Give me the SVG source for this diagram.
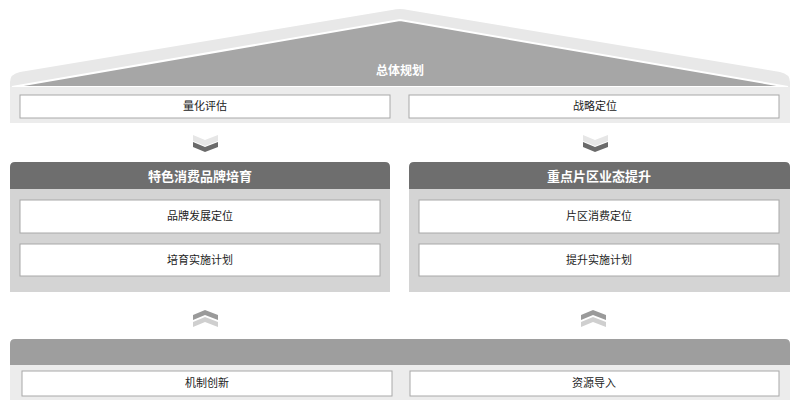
<svg xmlns="http://www.w3.org/2000/svg" width="800" height="410" viewBox="0 0 800 410">
<style>
.box{fill:#ffffff;stroke:#a8a8a8;stroke-width:1}
.t{font-family:"Noto Sans CJK SC","Noto Sans",sans-serif;font-size:11px;fill:#222;text-anchor:middle}
.h{font-family:"Noto Sans CJK SC","Noto Sans",sans-serif;font-size:13px;font-weight:bold;fill:#ffffff;text-anchor:middle}
</style>
<rect width="800" height="410" fill="#ffffff"/>
<g id="roof">
<path d="M10,87 L10,82 Q10,74 20,72 L392,10 Q400,8 408,10 L780,72 Q790,74 790,82 L790,87 Z" fill="#e8e8e8"/>
<path d="M12,87 L400,20 L788,87 Z" fill="#a6a6a6" stroke="#ffffff" stroke-width="2"/>
<text class="h" x="400" y="75" style="font-size:12px">总体规划</text>
<rect x="10" y="87" width="780" height="36" fill="#ececec"/>
</g>
<g id="n-liang">
<rect class="box" x="20" y="95" width="370" height="23"/>
<text class="t" x="205" y="110">量化评估</text>
</g>
<g id="n-zhan">
<rect class="box" x="409" y="95" width="370" height="23"/>
<text class="t" x="595" y="110">战略定位</text>
</g>
<g id="connectors">
<path d="M193,135 L205,140 L218,135 L218,141 L205,146 L193,141 Z" fill="#e6e6e6"/>
<path d="M193,142 L205,147 L218,142 L218,147 L205,152 L193,147 Z" fill="#6a6a6a"/>
<path d="M583,135 L595,140 L608,135 L608,141 L595,146 L583,141 Z" fill="#e6e6e6"/>
<path d="M583,142 L595,147 L608,142 L608,147 L595,152 L583,147 Z" fill="#6a6a6a"/>
<path d="M193,315 L205,310 L218,315 L218,320 L205,315 L193,320 Z" fill="#9a9a9a"/>
<path d="M193,322 L205,317 L218,322 L218,327 L205,322 L193,327 Z" fill="#cfcfcf"/>
<path d="M581,315 L593,310 L606,315 L606,320 L593,315 L581,320 Z" fill="#9a9a9a"/>
<path d="M581,322 L593,317 L606,322 L606,327 L593,322 L581,327 Z" fill="#cfcfcf"/>
</g>
<g id="panel-left">
<rect x="10" y="189" width="380" height="103" fill="#d4d4d4"/>
<path d="M10,189 L10,167 Q10,162 15,162 L385,162 Q390,162 390,167 L390,189 Z" fill="#6e6e6e"/>
<text class="h" x="200" y="181">特色消费品牌培育</text>
</g>
<g id="n-pinpai">
<rect class="box" x="20" y="200" width="360" height="33"/>
<text class="t" x="200" y="220">品牌发展定位</text>
</g>
<g id="n-peiyu">
<rect class="box" x="20" y="244" width="360" height="32"/>
<text class="t" x="200" y="264">培育实施计划</text>
</g>
<g id="panel-right">
<rect x="409" y="189" width="381" height="103" fill="#d4d4d4"/>
<path d="M409,189 L409,167 Q409,162 414,162 L785,162 Q790,162 790,167 L790,189 Z" fill="#6e6e6e"/>
<text class="h" x="599" y="181">重点片区业态提升</text>
</g>
<g id="n-pianqu">
<rect class="box" x="419" y="200" width="360" height="33"/>
<text class="t" x="599" y="220">片区消费定位</text>
</g>
<g id="n-tisheng">
<rect class="box" x="419" y="244" width="360" height="32"/>
<text class="t" x="599" y="264">提升实施计划</text>
</g>
<g id="base">
<rect x="10" y="365" width="780" height="35" fill="#ececec"/>
<path d="M10,365 L10,344 Q10,339 15,339 L785,339 Q790,339 790,344 L790,365 Z" fill="#9e9e9e"/>
</g>
<g id="n-jizhi">
<rect class="box" x="22" y="371" width="370" height="25"/>
<text class="t" x="207" y="387">机制创新</text>
</g>
<g id="n-ziyuan">
<rect class="box" x="410" y="371" width="369" height="25"/>
<text class="t" x="594" y="387">资源导入</text>
</g>
</svg>
